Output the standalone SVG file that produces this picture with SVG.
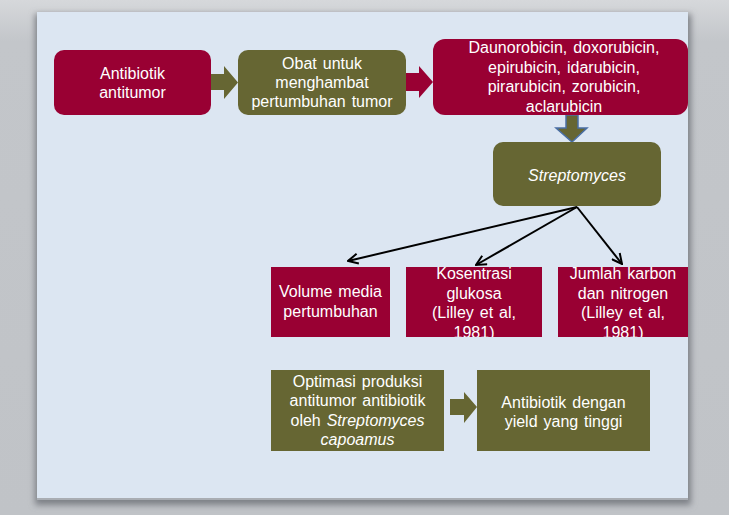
<svg xmlns="http://www.w3.org/2000/svg" width="729" height="515" viewBox="0 0 729 515">
<style>
text{font-family:"Liberation Sans",Arial,sans-serif;font-size:16px;fill:#ffffff;text-anchor:middle;word-spacing:1.5px}
.it{font-style:italic}
.red{fill:#990033}
.olv{fill:#666633}
.con{stroke:#000;stroke-width:2;fill:none}
</style>
<defs>
<linearGradient id="bg" x1="0" y1="0" x2="0" y2="1">
<stop offset="0" stop-color="#d6d8db"/>
<stop offset="0.08" stop-color="#c3c6ca"/>
<stop offset="1" stop-color="#c0c3c7"/>
</linearGradient>
<filter id="sh" x="-5%" y="-5%" width="110%" height="110%">
<feGaussianBlur stdDeviation="3"/>
</filter>
<marker id="ah" viewBox="0 0 12 12" refX="11" refY="6" markerWidth="12" markerHeight="12" markerUnits="userSpaceOnUse" orient="auto">
<path d="M1,1 L11,6 L1,11" fill="none" stroke="#000" stroke-width="2"/>
</marker>
<clipPath id="cB"><rect x="406" y="267" width="136" height="70"/></clipPath>
<clipPath id="cC"><rect x="558" y="267" width="130" height="70"/></clipPath>
</defs>
<rect width="729" height="515" fill="url(#bg)"/>
<rect x="35" y="14" width="656" height="491" fill="#7d8086" filter="url(#sh)"/>
<rect x="37" y="12" width="651" height="488" fill="#dce6f2"/>
<rect x="37" y="498" width="651" height="2" fill="#a9adb3"/>

<g id="connectors">
<path d="M211,74 H224 V66 L238,82.5 L224,99 V90 H211 Z" class="olv"/>
<path d="M406,73 H419 V66 L433,82 L419,98 V91 H406 Z" class="red"/>
<path d="M566,115 H578 V128 H587 L572,142 L556,128 H566 Z" fill="#666633" stroke="#4a6fa5" stroke-width="1.5"/>
<line x1="577" y1="207" x2="348" y2="261" class="con" marker-end="url(#ah)"/>
<line x1="577" y1="207" x2="476" y2="265" class="con" marker-end="url(#ah)"/>
<line x1="577" y1="207" x2="622" y2="264" class="con" marker-end="url(#ah)"/>
<path d="M450,399 H464 V392 L477,407 L464,423 V415 H450 Z" class="olv"/>
</g>

<g id="n1">
<rect x="54" y="50" width="157" height="65" rx="10" class="red"/>
<text x="132.5" y="79">Antibiotik</text>
<text x="132.5" y="97.5">antitumor</text>
</g>

<g id="n2">
<rect x="238" y="50" width="168" height="65" rx="10" class="olv"/>
<text x="322" y="69">Obat untuk</text>
<text x="322" y="88">menghambat</text>
<text x="322" y="107">pertumbuhan  tumor</text>
</g>

<g id="n3">
<rect x="433" y="39" width="255" height="76" rx="12" class="red"/>
<text x="564" y="53">Daunorobicin,  doxorubicin,</text>
<text x="564" y="72.5">epirubicin, idarubicin,</text>
<text x="564" y="92">pirarubicin, zorubicin,</text>
<text x="564" y="111.5">aclarubicin</text>
</g>

<g id="n4">
<rect x="493" y="142" width="168" height="64" rx="10" class="olv"/>
<text x="577" y="181" class="it">Streptomyces</text>
</g>

<g id="n5">
<rect x="271" y="267" width="119" height="70" class="red"/>
<text x="330.5" y="297">Volume media</text>
<text x="330.5" y="317">pertumbuhan</text>
</g>

<g id="n6">
<rect x="406" y="267" width="136" height="70" class="red"/>
<g clip-path="url(#cB)">
<text x="474" y="279">Kosentrasi</text>
<text x="474" y="298.5">glukosa</text>
<text x="474" y="318">(Lilley et al,</text>
<text x="474" y="338">1981)</text>
</g>
</g>

<g id="n7">
<rect x="558" y="267" width="130" height="70" class="red"/>
<g clip-path="url(#cC)">
<text x="623" y="279">Jumlah karbon</text>
<text x="623" y="298.5">dan nitrogen</text>
<text x="623" y="318">(Lilley et al,</text>
<text x="623" y="338">1981)</text>
</g>
</g>

<g id="n8">
<rect x="271" y="370" width="173" height="81" class="olv"/>
<text x="357.5" y="387">Optimasi produksi</text>
<text x="357.5" y="406">antitumor  antibiotik</text>
<text x="357.5" y="425.5">oleh <tspan class="it">Streptomyces</tspan></text>
<text x="357.5" y="444.5" class="it">capoamus</text>
</g>

<g id="n9">
<rect x="477" y="370" width="173" height="81" class="olv"/>
<text x="563.5" y="407.5">Antibiotik dengan</text>
<text x="563.5" y="427">yield yang tinggi</text>
</g>
</svg>
